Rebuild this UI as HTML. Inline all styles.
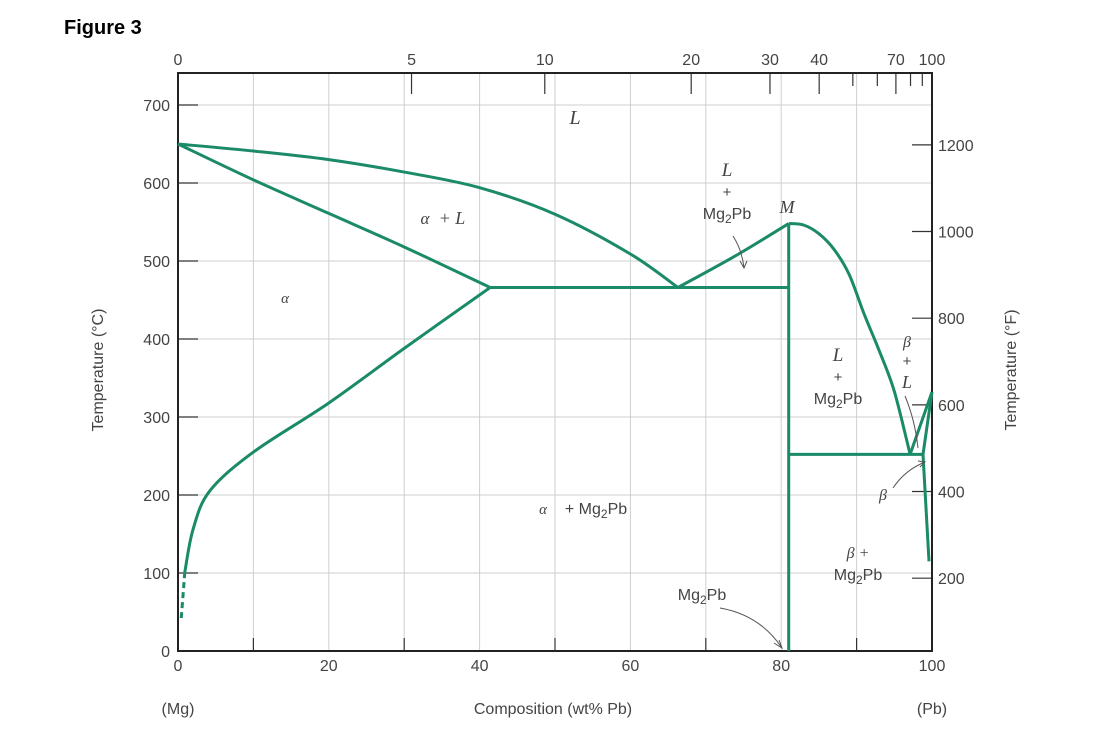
<!DOCTYPE html>
<html><head><meta charset="utf-8"><style>
body{margin:0;background:#fff;}
svg text{font-family:"Liberation Sans",sans-serif;fill:#444;}
.it{font-family:"Liberation Serif",serif;font-style:italic;}
</style></head><body>
<svg id="c" width="1099" height="748" viewBox="0 0 1099 748"></svg>
<script>
// data arrays (wt% Pb, °C)
const xTicks=[0,20,40,60,80,100];
const yTicks=[0,100,200,300,400,500,600,700];
const fTicks=[200,400,600,800,1000,1200];
const atTicks=[0,5,10,20,30,40,50,60,70,80,90,100];
const atLabels=["0","5","10","20","30","40","","","70","","","100"];
const liquidusLeft=[[0,650],[10,641],[20,630],[30,614],[40,594],[50,560],[60,509],[66.3,466]];
const solidusLeft=[[0,650],[10,604],[20,561],[30,518],[41.4,466]];
const solvusLeft=[[41.4,466],[30,388],[20,318],[10,255],[4.2,205],[2,156],[0.9,101]];
const solvusDashed=[[0.9,101],[0.4,38]];
const eutectic1=[[41.4,466],[81,466]];
const liquidusMid=[[66.3,466],[74,507],[81,548]];
const liquidusRight=[[81,548],[83,546],[85,535],[87,515],[89,483],[91,432],[93,385],[95,333],[97.1,252]];
const compound=[[81,548],[81,0]];
const eutectic2=[[81,252],[98.8,252]];
const betaLiq=[[97.1,252],[100,332]];
const betaSol=[[98.8,252],[100,332]];
const betaSolvus=[[98.8,252],[99.6,115]];

const X0=178,X1=932,Y0=651,Y1=73;
const sx=v=>X0+(X1-X0)*v/100;
const sy=t=>Y0-0.78*t;
const sf=f=>sy((f-32)*5/9);
const atPos=a=>{ if(a>=100) return X1; const w=100*a*207.2/(a*207.2+(100-a)*24.305); return sx(w);};
const svg=document.getElementById('c');
const NS='http://www.w3.org/2000/svg';
function mk(tag,attrs,txt){const e=document.createElementNS(NS,tag);for(const k in attrs)e.setAttribute(k,attrs[k]);if(txt!==undefined)e.textContent=txt;svg.appendChild(e);return e;}
function line(x1,y1,x2,y2,st,w,name){const e=mk('line',{x1,y1,x2,y2,stroke:st,'stroke-width':w});

return e;}
function txt(x,y,s,size,name,cls,anchor){const e=mk('text',{x,y,'font-size':size,'text-anchor':anchor||'middle'},s);if(cls)e.setAttribute('class',cls);

return e;}
function mg2pb(x,y,name,prefix){const e=mk('text',{x,y,'font-size':16,'text-anchor':'middle'});


e.innerHTML=(prefix||'')+'Mg<tspan font-size="12" dy="4">2</tspan><tspan dy="-4">Pb</tspan>';return e;}
// grid
for(let v=10;v<100;v+=10){line(sx(v),Y1,sx(v),Y0,'#cfcfcf',1,'grid-v');}
for(let t=100;t<=700;t+=100){line(X0,sy(t),X1,sy(t),'#cfcfcf',1,'grid-h');}
// ticks & labels
xTicks.forEach(v=>{txt(sx(v),671,String(v),16,'x-tick-label');});
for(let v=10;v<100;v+=20){line(sx(v),Y0,sx(v),Y0-13,'#333',1.2,'x-tick');}
yTicks.forEach(t=>{txt(170,sy(t)+6,String(t),16,'y-tick-label',null,'end');if(t>0)line(X0,sy(t),X0+20,sy(t),'#333',1.2,'y-tick');});
fTicks.forEach(f=>{line(X1,sf(f),X1-20,sf(f),'#333',1.2,'f-tick');txt(X1+6,sf(f)+6,String(f),16,'f-tick-label',null,'start');});
atTicks.forEach((a,i)=>{const x=atPos(a);const lab=atLabels[i];if(a>0&&a<100)line(x,Y1,x,Y1+(lab?21:13),'#333',1.2,'at-tick');if(lab)txt(x,65,lab,16,'at-tick-label');});
// frame
const fr=mk('rect',{x:X0,y:Y1,width:X1-X0,height:Y0-Y1,fill:'none',stroke:'#222','stroke-width':2});


// curves
const G='#1b8a68';
function poly(pts,name,dash){const d=pts.map((p,i)=>(i?'L':'M')+sx(p[0]).toFixed(1)+' '+sy(p[1]).toFixed(1)).join(' ');
const e=mk('path',{d,fill:'none',stroke:G,'stroke-width':3,'stroke-linejoin':'round'});if(dash)e.setAttribute('stroke-dasharray',dash);

}
function smooth(pts,name){let d='M'+sx(pts[0][0])+' '+sy(pts[0][1]);const P=pts.map(p=>[sx(p[0]),sy(p[1])]);
for(let i=0;i<P.length-1;i++){const p0=P[Math.max(i-1,0)],p1=P[i],p2=P[i+1],p3=P[Math.min(i+2,P.length-1)];
d+=` C${p1[0]+(p2[0]-p0[0])/6} ${p1[1]+(p2[1]-p0[1])/6} ${p2[0]-(p3[0]-p1[0])/6} ${p2[1]-(p3[1]-p1[1])/6} ${p2[0]} ${p2[1]}`;}
const e=mk('path',{d,fill:'none',stroke:G,'stroke-width':3});

}
smooth(liquidusLeft,'liquidus-left');
smooth(solidusLeft,'solidus-left');
smooth(solvusLeft,'solvus-left');
poly(solvusDashed,'solvus-dashed','6,4');
poly(eutectic1,'eutectic-line-466');
smooth(liquidusMid,'liquidus-mid');
smooth(liquidusRight,'liquidus-right');
poly(compound,'mg2pb-line');
poly(eutectic2,'eutectic-line-250');
poly(betaLiq,'beta-liquidus');
poly(betaSol,'beta-solidus');
poly(betaSolvus,'beta-solvus');
// arrows
function arrow(d,name){const e=mk('path',{d,fill:'none',stroke:'#555','stroke-width':1});

}
arrow('M733 236 Q742 250 744 268 M740 261 L744 268 L747 261','arrow-l-mg2pb');
arrow('M720 608 Q760 615 782 648 M774 643 L782 648 L779 640','arrow-mg2pb');
arrow('M905 396 Q915 420 918 448','arrow-beta-l');
arrow('M893 488 Q905 470 925 462 M918 461 L925 462 L920 467','arrow-beta');
// region labels
txt(575,124,'L',20,'label-liquid','it');
txt(425,224,'α',17,'label-alpha-l-a','it');txt(452,224,'+ L',18,'label-alpha-l','it');
txt(285,303,'α',15,'label-alpha','it');
txt(727,176,'L',19,'label-l-mg2pb-top','it');txt(727,197,'+',15,'plus1');
mg2pb(727,219,'label-mg2pb-1');
txt(787,213,'M',18,'label-m','it');
txt(543,514,'α',15,'label-alpha-mg2pb-a','it');mg2pb(596,514,'label-alpha-mg2pb','+ ');
mg2pb(702,600,'label-mg2pb-compound');
txt(838,361,'L',19,'label-l-mg2pb-right','it');txt(838,382,'+',15,'plus2');mg2pb(838,404,'label-mg2pb-2');
txt(907,347,'β',16,'label-beta-l-b','it');txt(907,366,'+',15,'plus3');txt(907,388,'L',18,'label-beta-l-l','it');
txt(883,500,'β',16,'label-beta','it');
txt(858,558,'β +',16,'label-beta-mg2pb-b','it');mg2pb(858,580,'label-beta-mg2pb');
// axis titles
txt(553,714,'Composition (wt% Pb)',16,'x-axis-title');
txt(178,714,'(Mg)',16,'label-mg');
txt(932,714,'(Pb)',16,'label-pb');
const yt=txt(0,0,'Temperature (°C)',16,'y-axis-title');yt.setAttribute('transform','translate(103,370) rotate(-90)');
const ft=txt(0,0,'Temperature (°F)',16,'y2-axis-title');ft.setAttribute('transform','translate(1016,370) rotate(-90)');
const fig=txt(64,34,'Figure 3',20,'figure-title',null,'start');fig.setAttribute('font-weight','bold');fig.setAttribute('style','fill:#000');
</script>
</body></html>
